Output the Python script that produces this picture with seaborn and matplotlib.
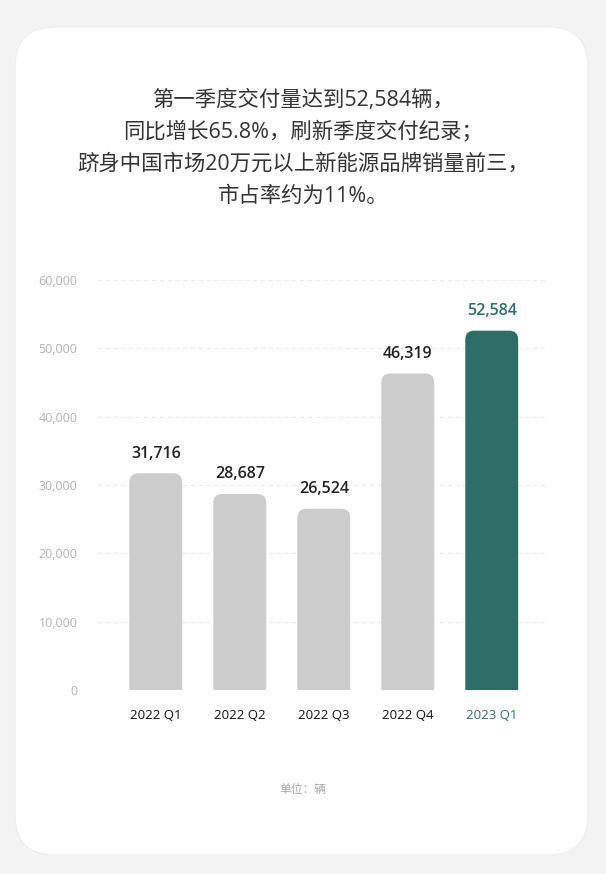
import matplotlib
matplotlib.use("Agg")
import matplotlib.pyplot as plt
import seaborn as sns
import pandas as pd
from matplotlib.patches import FancyBboxPatch
from matplotlib.transforms import IdentityTransform

quarters = ["2022 Q1", "2022 Q2", "2022 Q3", "2022 Q4", "2023 Q1"]
deliveries = [31716, 28687, 26524, 46319, 52584]
ytick_values = [0, 10000, 20000, 30000, 40000, 50000, 60000]
title_lines = ["第一季度交付量达到52,584辆，",
               "同比增长65.8%，刷新季度交付纪录；",
               "跻身中国市场20万元以上新能源品牌销量前三，",
               "市占率约为11%。"]
unit_text = "单位：辆"

GRAY = "#cccccc"
TEAL = "#2e6e69"

sns.set_theme(style="white")
FAM = ['Open Sans', 'Noto Sans CJK SC', 'DejaVu Sans']
plt.rcParams['font.family'] = FAM

W, H = 606, 874
fig = plt.figure(figsize=(W / 100, H / 100), dpi=100, facecolor="#f3f3f3")

# white card
card = FancyBboxPatch((15, H - 855), 573, 828,
                      boxstyle="round,pad=0,rounding_size=40",
                      transform=IdentityTransform(), facecolor="white",
                      edgecolor="#ececec", linewidth=0.8, zorder=-5)
fig.patches.append(card)

ax = fig.add_axes([97 / W, 1 - 690 / H, (548 - 97) / W, (690 - 280) / H])
ax.set_facecolor("none")
ax.set_zorder(2)

df = pd.DataFrame({"q": quarters, "v": deliveries})
palette = [GRAY] * 4 + [TEAL]
sns.barplot(data=df, x="q", y="v", hue="q", palette=palette, legend=False,
            width=0.63, ax=ax, zorder=3)

ax.set_xlim(-0.70, 4.67)
ax.set_ylim(0, 60000)

# convert to rounded top bars
px_per_x = 84.0
px_per_y = 410.0 / 60000
r_px = 9.0
r_x = r_px / px_per_x
aspect = (1 / px_per_y) / (1 / px_per_x)
for p, val, col in zip(list(ax.patches), deliveries, palette):
    x0, w = p.get_x(), p.get_width()
    h_val = p.get_height()
    p.remove()
    rb = FancyBboxPatch((x0, -r_px / px_per_y), w, h_val + r_px / px_per_y,
                        boxstyle=f"round,pad=0,rounding_size={r_x}",
                        mutation_aspect=aspect, facecolor=col, edgecolor="none",
                        zorder=3)
    ax.add_patch(rb)
    ax.text(x0 + w / 2, h_val + 1700, f"{val:,}", ha="center", va="bottom",
            fontsize=11.5, color=(TEAL if col == TEAL else "#222222"),
            fontweight="semibold", zorder=4)

ax.set_yticks(ytick_values)
ax.set_yticklabels([f"{v:,}" for v in ytick_values], color="#b3b3b3", fontsize=9)
ax.yaxis.grid(True, linestyle=(0, (4, 3)), color="#ececec", linewidth=0.8, zorder=0)
ax.xaxis.grid(False)
ax.tick_params(axis="y", length=0, pad=14)
ax.tick_params(axis="x", length=0, pad=14)
for lab in ax.get_xticklabels():
    lab.set_fontsize(9.5)
    lab.set_color(TEAL if lab.get_text() == "2023 Q1" else "#111111")
ax.set_xlabel("")
ax.set_ylabel("")
for s in ax.spines.values():
    s.set_visible(False)

for i, line in enumerate(title_lines):
    fig.text(0.5, 1 - (100 + 32 * i) / H, line, ha="center", va="center",
             fontsize=15.4, color="#333333")

fig.text(0.5, 1 - 789 / H, unit_text, ha="center", va="center",
         fontsize=8.5, color="#aaaaaa")

fig.savefig("out.png", dpi=100, facecolor=fig.get_facecolor())
